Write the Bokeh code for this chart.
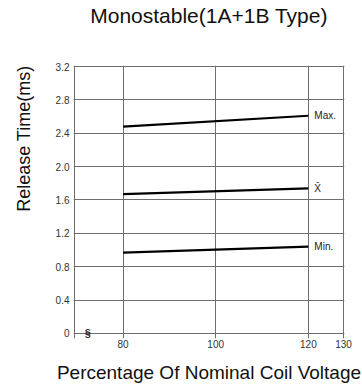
from bokeh.plotting import figure
from bokeh.models import Label, FixedTicker, Range1d, ColumnDataSource, Title
from bokeh.core.properties import value
from bokeh.embed import file_html
from bokeh.resources import INLINE

title_text = "Monostable(1A+1B Type)"
x_label = "Percentage Of Nominal Coil Voltage"
y_label = "Release Time(ms)"

voltage = [80, 120]
max_time = [2.48, 2.61]
mean_time = [1.67, 1.74]
min_time = [0.97, 1.04]
series_names = ["Max.", "X\u0304", "Min."]

x_ticks = [80, 100, 120, 127.6]
x_tick_labels = ["80", "100", "120", "130"]
y_ticks = [0, 0.4, 0.8, 1.2, 1.6, 2.0, 2.4, 2.8, 3.2]
y_tick_labels = ["0", "0.4", "0.8", "1.2", "1.6", "2.0", "2.4", "2.8", "3.2"]
x_start, x_end = 69.5, 127.6
y_start, y_end = 0, 3.2
break_x = 72.4

# view padding so the box edges are not clipped, and room below for the break mark
pad_x = 0.2
pad_top = 0.012
pad_bottom = 0.06

FONT = "Liberation Sans"
GRID = "#6e6e6e"

p = figure(width=362, height=385,
           x_range=Range1d(x_start - pad_x, x_end + pad_x),
           y_range=Range1d(y_start - pad_bottom, y_end + pad_top),
           output_backend="svg", toolbar_location=None,
           min_border_left=73, min_border_right=18,
           min_border_top=64, min_border_bottom=47)

p.outline_line_color = None
p.background_fill_color = "white"
p.border_fill_color = "white"

for ax in (p.xaxis, p.yaxis):
    ax.axis_line_color = None
    ax.major_tick_in = 0
    ax.major_tick_out = 0
    ax.minor_tick_line_color = None
    ax.major_label_text_font = FONT
    ax.major_label_text_font_size = "10px"
    ax.major_label_text_color = "#333333"

p.xaxis.ticker = FixedTicker(ticks=x_ticks)
p.xaxis.major_label_overrides = dict(zip(x_ticks, x_tick_labels))
p.xaxis.major_label_standoff = 1
p.yaxis.ticker = FixedTicker(ticks=y_ticks)
p.yaxis.major_label_overrides = dict(zip(y_ticks, y_tick_labels))
p.yaxis.major_label_standoff = 4

p.xaxis.axis_label = x_label
p.xaxis.axis_label_text_font = FONT
p.xaxis.axis_label_text_font_size = "19px"
p.xaxis.axis_label_text_font_style = "normal"
p.xaxis.axis_label_text_color = "#111111"
p.xaxis.axis_label_standoff = 11

p.xgrid.ticker = FixedTicker(ticks=[x_start] + x_ticks[:-1] + [x_end])
p.xgrid.bounds = (y_start, y_end)
p.ygrid.ticker = FixedTicker(ticks=y_ticks)
p.ygrid.bounds = (x_start, x_end)
p.xgrid.grid_line_color = GRID
p.ygrid.grid_line_color = GRID
p.xgrid.grid_line_alpha = 1
p.ygrid.grid_line_alpha = 1

for series in (max_time, mean_time, min_time):
    p.line(voltage, series, line_color="black", line_width=2.2)

src = ColumnDataSource(dict(
    x=[voltage[-1]] * 3,
    y=[max_time[-1], mean_time[-1], min_time[-1]],
    t=series_names,
))
p.text(x="x", y="y", text="t", source=src, x_offset=6,
       text_align="left", text_baseline="middle",
       text_font=value(FONT), text_font_size="10px", text_color="#222222")

# spacer between the title and the plot box
p.add_layout(Title(text=" ", text_font_size="1px", standoff=35), "above")
p.title.text = title_text
p.title.align = "center"
p.title.text_font = FONT
p.title.text_font_size = "21px"
p.title.text_font_style = "normal"
p.title.text_color = "#111111"
p.title.standoff = 2

# spacer between tick labels and the vertical axis title
p.add_layout(Title(text=" ", text_font_size="1px", standoff=15), "left")
p.add_layout(Title(text=y_label, align="right", text_font=FONT,
                   text_font_size="18px", text_font_style="normal",
                   text_color="#111111", standoff=2), "left")

p.add_layout(Label(x=break_x, y=y_start, text="§",
                   text_align="center", text_baseline="middle",
                   text_font=FONT, text_font_size="11px", text_font_style="bold",
                   text_color="#222222"))

open("out.html", "w").write(file_html(p, INLINE))
